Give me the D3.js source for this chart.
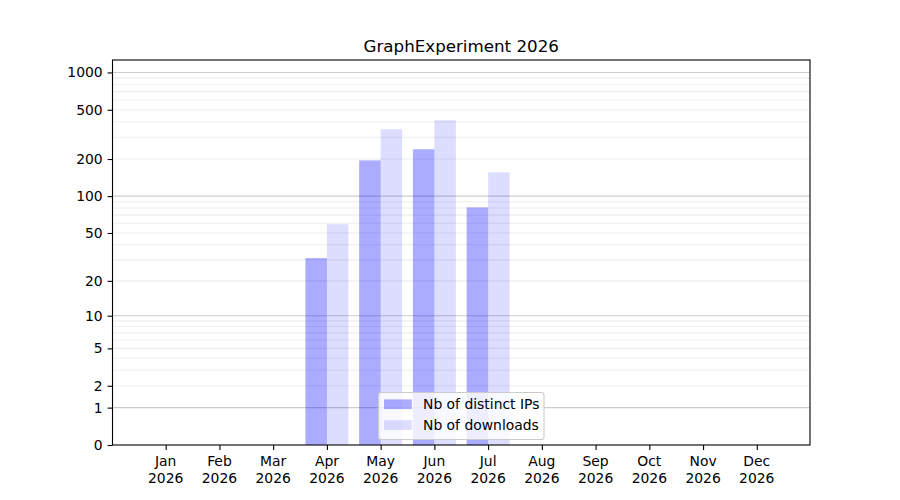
<!DOCTYPE html>
<html>
  <head>
    <meta charset="utf-8">
    <script src="https://unpkg.com/d3@7/dist/d3.min.js"></script>
    <style>
      body {
        margin: 0;
        background: #ffffff;
      }

      text {
        font-family: "DejaVu Sans", sans-serif;
        fill: #000000;
      }

      .tick-label {
        font-size: 13.9px;
      }

      .title {
        font-size: 16.7px;
        text-anchor: middle;
      }
    </style>
  </head>
  <body>
    <script>
      const title = 'GraphExperiment 2026';
      const months = ['Jan', 'Feb', 'Mar', 'Apr', 'May', 'Jun',
        'Jul', 'Aug', 'Sep', 'Oct', 'Nov', 'Dec'];
      const yearLabel = '2026';
      const distinctIps = [0, 0, 0, 31, 195, 240, 81, 0, 0, 0, 0, 0];
      const downloads = [0, 0, 0, 59, 348, 411, 156, 0, 0, 0, 0, 0];
      const yTicks = [0, 1, 2, 5, 10, 20, 50, 100, 200, 500, 1000];
      const yMajorGrid = [1, 10, 100, 1000];
      const seriesNames = ['Nb of distinct IPs', 'Nb of downloads'];

      const width = 900;
      const height = 500;
      const plotLeft = 112.5;
      const plotRight = 810;
      const plotTop = 60;
      const plotBottom = 445;

      // minor grid: 2..9 of every decade
      const yMinorGrid = [];
      [1, 10, 100].forEach(d => {
        for (let k = 2; k <= 9; k++) yMinorGrid.push(k * d);
      });

      const xScale = d3.scaleLinear()
        .domain([-0.99, 11.99])
        .range([plotLeft, plotRight]);

      const yScale = d3.scaleSymlog()
        .constant(1)
        .domain([0, 1260])
        .range([plotBottom, plotTop]);

      const barWidth = 0.4;

      const svg = d3.select('body')
        .append('svg')
        .attr('width', width)
        .attr('height', height);

      // grid
      svg.append('g').selectAll('line').data(yMinorGrid)
        .join('line')
        .attr('x1', plotLeft).attr('x2', plotRight)
        .attr('y1', d => yScale(d)).attr('y2', d => yScale(d))
        .attr('stroke', '#b0b0b0')
        .attr('stroke-opacity', 0.22)
        .attr('stroke-width', 1.1);

      svg.append('g').selectAll('line').data(yMajorGrid)
        .join('line')
        .attr('x1', plotLeft).attr('x2', plotRight)
        .attr('y1', d => yScale(d)).attr('y2', d => yScale(d))
        .attr('stroke', '#b0b0b0')
        .attr('stroke-opacity', 0.65)
        .attr('stroke-width', 1.1);

      // bars
      const series = [
        {values: distinctIps, offset: -barWidth, opacity: 0.33},
        {values: downloads, offset: 0, opacity: 0.135}
      ];

      series.forEach(s => {
        svg.append('g').selectAll('rect').data(s.values)
          .join('rect')
          .attr('x', (d, i) => xScale(i + s.offset))
          .attr('width', xScale(barWidth) - xScale(0))
          .attr('y', d => yScale(d))
          .attr('height', d => yScale(0) - yScale(d))
          .attr('fill', 'blue')
          .attr('fill-opacity', s.opacity);
      });

      // axes box
      svg.append('rect')
        .attr('x', plotLeft).attr('y', plotTop)
        .attr('width', plotRight - plotLeft).attr('height', plotBottom - plotTop)
        .attr('fill', 'none')
        .attr('stroke', '#000000')
        .attr('stroke-width', 1.1);

      // y axis
      const yAxis = svg.append('g')
        .attr('transform', `translate(${plotLeft},0)`)
        .call(d3.axisLeft(yScale)
          .tickValues(yTicks)
          .tickFormat(d3.format('d'))
          .tickSize(4.9)
          .tickPadding(4.9));
      yAxis.select('.domain').remove();
      yAxis.selectAll('.tick line').attr('stroke-width', 1.1);
      yAxis.selectAll('text')
        .attr('class', 'tick-label');
      yAxis.attr('font-family', null).attr('font-size', null);

      // x axis
      const xAxis = svg.append('g')
        .attr('transform', `translate(0,${plotBottom})`)
        .call(d3.axisBottom(xScale)
          .tickValues(d3.range(months.length))
          .tickFormat('')
          .tickSize(4.9));
      xAxis.select('.domain').remove();
      xAxis.selectAll('.tick line').attr('stroke-width', 1.1);

      const xLabels = svg.append('g').selectAll('text').data(months)
        .join('text')
        .attr('class', 'tick-label')
        .attr('text-anchor', 'middle')
        .attr('x', (d, i) => xScale(i));
      xLabels.append('tspan')
        .attr('x', (d, i) => xScale(i))
        .attr('y', 466)
        .text(d => d);
      xLabels.append('tspan')
        .attr('x', (d, i) => xScale(i))
        .attr('y', 482.5)
        .text(yearLabel);

      // title
      svg.append('text')
        .attr('class', 'title')
        .attr('x', (plotLeft + plotRight) / 2)
        .attr('y', 51.5)
        .text(title);

      // legend
      const legend = svg.append('g');
      legend.append('rect')
        .attr('x', 378.5).attr('y', 392.5)
        .attr('width', 165.5).attr('height', 47)
        .attr('rx', 2.8)
        .attr('fill', '#ffffff')
        .attr('fill-opacity', 0.8)
        .attr('stroke', '#cccccc')
        .attr('stroke-width', 1.1);

      seriesNames.forEach((name, i) => {
        const y = 404.3 + i * 20.8;
        legend.append('rect')
          .attr('x', 384).attr('y', y - 4.9)
          .attr('width', 27.8).attr('height', 9.7)
          .attr('fill', 'blue')
          .attr('fill-opacity', series[i].opacity);
        legend.append('text')
          .attr('class', 'tick-label')
          .attr('x', 423)
          .attr('y', y)
          .attr('dominant-baseline', 'central')
          .text(name);
      });
    </script>
  </body>
</html>
